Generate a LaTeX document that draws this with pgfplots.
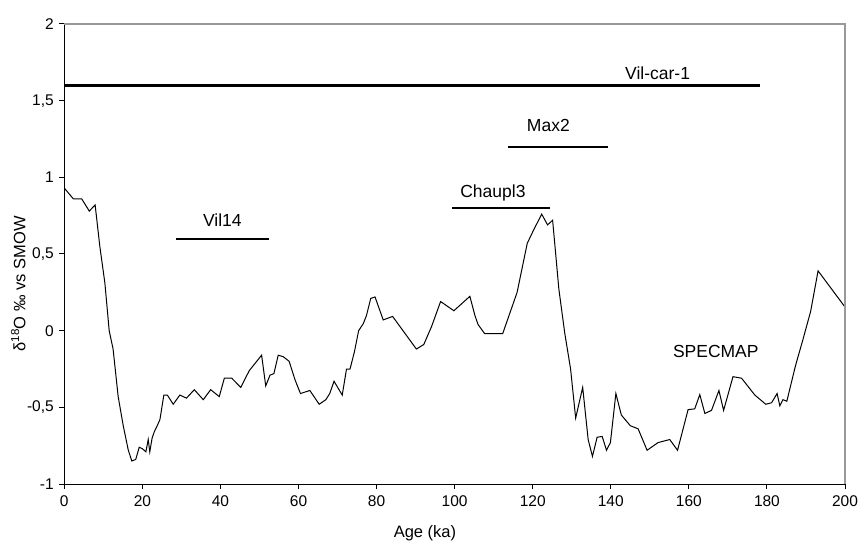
\documentclass[border=0pt]{standalone}
\usepackage{fontspec}
\setmainfont{Liberation Sans}
\usepackage{pgfplots}
\pgfplotsset{compat=1.18}
\begin{document}
\begin{tikzpicture}
\begin{axis}[
  scale only axis, width=780.7pt, height=460pt,
  xmin=0, xmax=200, ymin=-1, ymax=2,
  axis x line*=bottom, axis y line*=left,
  axis line style={black, line width=1pt},
  xtick={0,20,...,200}, ytick={-1,-0.5,0,0.5,1,1.5,2},
  tick align=outside, major tick length=5pt,
  tick style={black, line width=1pt},
  /pgf/number format/assume math mode=true,
  /pgf/number format/use comma,
  ticklabel style={font=\fontsize{15.5}{18}\selectfont},
  xticklabel style={yshift=-3pt},
  yticklabel style={xshift=-2pt},
  xlabel={Age (ka)},
  ylabel={δ\textsuperscript{18}O ‰ vs SMOW},
  label style={font=\fontsize{16.5}{19}\selectfont},
  xlabel style={at={(axis description cs:0.462,-0.108)}, anchor=center},
  ylabel style={at={(axis description cs:-0.059,0.435)}, anchor=center},
  clip=false,
]
\addplot[black, line width=1pt] coordinates {
(0,0.93) (2.3,0.86) (4.45,0.86) (6.4,0.78) (7.9,0.82) (9.1,0.55) (10.4,0.31) (11.5,0.0) (12.5,-0.12) (13.8,-0.43) (15.1,-0.62) (16.4,-0.78) (17.3,-0.85) (18.3,-0.84) (19.2,-0.76) (20.0,-0.77) (20.9,-0.79) (21.5,-0.71) (21.9,-0.79) (22.5,-0.70) (23.05,-0.66) (23.8,-0.62) (24.5,-0.58) (25.5,-0.42) (26.4,-0.42) (27.9,-0.48) (29.6,-0.42) (31.3,-0.44) (33.3,-0.385) (35.6,-0.45) (37.5,-0.385) (39.7,-0.43) (41.0,-0.31) (42.9,-0.31) (45.2,-0.37) (47.4,-0.26) (50.55,-0.16) (51.6,-0.36) (52.7,-0.29) (53.7,-0.28) (54.8,-0.16) (56.1,-0.17) (57.6,-0.20) (59.1,-0.32) (60.5,-0.41) (62.9,-0.39) (65.3,-0.48) (67.0,-0.45) (68.0,-0.41) (69.1,-0.33) (71.2,-0.42) (72.3,-0.25) (73.2,-0.25) (74.3,-0.14) (75.4,0.0) (76.6,0.046) (77.4,0.098) (78.5,0.21) (79.6,0.22) (81.7,0.07) (84.1,0.093) (90.2,-0.12) (92.1,-0.09) (94.1,0.028) (96.4,0.19) (99.8,0.13) (103.9,0.224) (105.2,0.098) (106.0,0.04) (107.7,-0.02) (112.3,-0.02) (116.0,0.25) (118.6,0.57) (120.3,0.66) (122.3,0.76) (123.8,0.69) (125.1,0.72) (126.7,0.27) (128.2,-0.015) (129.7,-0.25) (131.0,-0.57) (132.8,-0.37) (134.2,-0.71) (135.3,-0.82) (136.5,-0.695) (137.8,-0.69) (138.9,-0.78) (139.9,-0.73) (141.3,-0.41) (142.7,-0.55) (145.0,-0.62) (147.0,-0.64) (149.3,-0.78) (152.1,-0.73) (155.1,-0.71) (157.1,-0.78) (159.8,-0.515) (161.5,-0.51) (162.8,-0.417) (164.1,-0.54) (165.8,-0.52) (167.7,-0.39) (168.9,-0.52) (171.3,-0.30) (173.5,-0.31) (176.9,-0.42) (179.7,-0.48) (181.2,-0.47) (182.6,-0.41) (183.3,-0.49) (184.1,-0.45) (185.1,-0.46) (187.3,-0.23) (189.2,-0.06) (191.2,0.126) (193.1,0.39) (200,0.154)
};
% Vil-car-1
\addplot[black, line width=3pt] coordinates {(0,1.6) (178.3,1.6)};
% Max2
\addplot[black, line width=2pt] coordinates {(113.7,1.2) (139.2,1.2)};
% Chaupl3
\addplot[black, line width=2pt] coordinates {(99.4,0.8) (124.4,0.8)};
% Vil14
\addplot[black, line width=2pt] coordinates {(28.6,0.6) (52.4,0.6)};
\draw[black!40, line width=1.5pt] (rel axis cs:0,1) -- (rel axis cs:1,1) -- (rel axis cs:1,0);
\node[font=\fontsize{17.5}{21}\selectfont] at (axis cs:152,1.68) {Vil-car-1};
\node[font=\fontsize{17.5}{21}\selectfont] at (axis cs:124,1.335) {Max2};
\node[font=\fontsize{17.5}{21}\selectfont] at (axis cs:109.8,0.90) {Chaupl3};
\node[font=\fontsize{17.5}{21}\selectfont] at (axis cs:40.5,0.72) {Vil14};
\node[font=\fontsize{17.5}{21}\selectfont] at (axis cs:166.9,-0.135) {SPECMAP};
\end{axis}
\pgfresetboundingbox
\path[use as bounding box] (-64.3pt,-67pt) rectangle (796.7pt,484pt);
\end{tikzpicture}
\end{document}
